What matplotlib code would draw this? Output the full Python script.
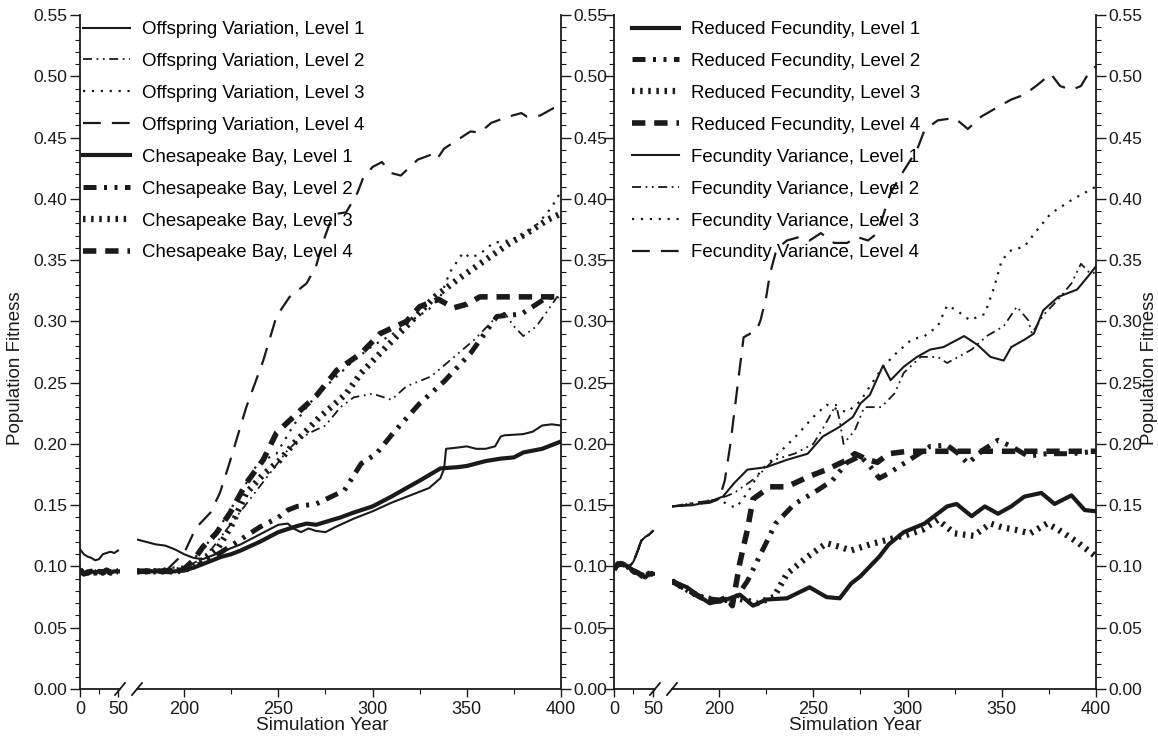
import matplotlib
matplotlib.use('Agg')
import matplotlib.pyplot as plt
from matplotlib.lines import Line2D

plt.rcParams['font.family'] = ['Liberation Sans', 'DejaVu Sans']

# ---- data: early segment (years 0-50) ----
early_years = [0, 5, 10, 15, 20, 25, 30, 35, 40, 45, 50]
ov1_early = [0.114, 0.110, 0.108, 0.107, 0.105, 0.106, 0.110, 0.111, 0.112, 0.111, 0.113]
left_base_early = [0.097, 0.094, 0.095, 0.096, 0.095, 0.096, 0.095, 0.097, 0.095, 0.096, 0.096]
fv_early = [0.098, 0.100, 0.101, 0.100, 0.100, 0.104, 0.112, 0.121, 0.124, 0.126, 0.129]
rf_early = [0.098, 0.102, 0.102, 0.101, 0.099, 0.096, 0.095, 0.093, 0.091, 0.094, 0.094]

# ---- left panel: Offspring Variation / Chesapeake Bay ----
ov1_years = [175, 180, 185, 190, 195, 200, 205, 210, 215, 220, 230, 240, 250, 255, 258, 262, 266, 270,
             275, 280, 290, 300, 310, 320, 330, 336, 338, 339, 345, 350, 355, 360, 365, 368, 370, 380,
             385, 390, 395, 400]
ov1_vals = [0.122, 0.120, 0.118, 0.117, 0.114, 0.110, 0.107, 0.106, 0.109, 0.112, 0.118, 0.126, 0.134,
            0.135, 0.131, 0.128, 0.131, 0.129, 0.128, 0.132, 0.139, 0.145, 0.152, 0.158, 0.164, 0.172,
            0.180, 0.196, 0.197, 0.198, 0.196, 0.196, 0.198, 0.206, 0.207, 0.208, 0.210, 0.215, 0.216, 0.215]

ov2_years = [175, 200, 208, 215, 225, 235, 245, 255, 262, 268, 275, 283, 290, 300, 310, 318, 331, 341,
             354, 366, 370, 375, 380, 387, 393, 398, 400]
ov2_vals = [0.096, 0.099, 0.105, 0.115, 0.135, 0.155, 0.175, 0.195, 0.205, 0.210, 0.215, 0.230, 0.238,
            0.241, 0.236, 0.247, 0.255, 0.268, 0.285, 0.304, 0.307, 0.296, 0.288, 0.296, 0.309, 0.320, 0.318]

ov3_years = [175, 200, 205, 212, 220, 230, 239, 249, 258, 265, 271, 283, 290, 300, 310, 320, 330, 336,
             341, 348, 352, 357, 364, 372, 380, 388, 395, 400]
ov3_vals = [0.096, 0.100, 0.106, 0.118, 0.135, 0.160, 0.184, 0.192, 0.215, 0.230, 0.241, 0.258, 0.268,
            0.280, 0.289, 0.300, 0.310, 0.320, 0.340, 0.356, 0.352, 0.355, 0.364, 0.366, 0.370, 0.380,
            0.393, 0.406]

ov4_years = [175, 190, 200, 204, 206, 214, 219, 224, 233, 242, 249, 256, 265, 270, 274, 278, 282, 286,
             292, 295, 300, 305, 310, 315, 324, 331, 334, 338, 345, 352, 357, 363, 372, 379, 382, 389,
             396, 400]
ov4_vals = [0.096, 0.096, 0.111, 0.124, 0.131, 0.144, 0.160, 0.184, 0.230, 0.268, 0.304, 0.320, 0.331,
            0.345, 0.366, 0.383, 0.388, 0.389, 0.405, 0.417, 0.426, 0.430, 0.421, 0.419, 0.432, 0.436,
            0.432, 0.441, 0.448, 0.455, 0.454, 0.462, 0.467, 0.470, 0.467, 0.468, 0.474, 0.475]

cb1_years = [175, 185, 195, 200, 205, 210, 215, 220, 225, 230, 240, 250, 260, 265, 270, 283, 290, 300,
             310, 318, 325, 336, 345, 350, 360, 368, 375, 380, 390, 400]
cb1_vals = [0.096, 0.096, 0.096, 0.097, 0.099, 0.102, 0.105, 0.108, 0.110, 0.113, 0.120, 0.128, 0.133,
            0.135, 0.134, 0.140, 0.144, 0.149, 0.157, 0.164, 0.170, 0.180, 0.181, 0.182, 0.186, 0.188,
            0.189, 0.193, 0.196, 0.202]

cb2_years = [175, 200, 210, 220, 230, 240, 250, 255, 260, 270, 285, 294, 302, 311, 325, 338, 352, 366,
             379, 393, 400]
cb2_vals = [0.096, 0.097, 0.103, 0.112, 0.122, 0.132, 0.140, 0.146, 0.149, 0.151, 0.162, 0.184, 0.192,
            0.209, 0.233, 0.251, 0.274, 0.304, 0.306, 0.320, 0.319]

cb3_years = [175, 195, 200, 205, 210, 218, 225, 233, 242, 251, 258, 265, 272, 278, 286, 294, 304, 318,
             333, 345, 357, 372, 382, 393, 400]
cb3_vals = [0.096, 0.096, 0.097, 0.100, 0.105, 0.115, 0.133, 0.160, 0.175, 0.187, 0.200, 0.211, 0.222,
            0.230, 0.241, 0.258, 0.274, 0.296, 0.320, 0.334, 0.347, 0.363, 0.372, 0.383, 0.388]

cb4_years = [175, 195, 200, 205, 210, 217, 224.5, 233, 242, 249, 260, 270, 281, 294, 304, 318, 325, 335,
             343, 350, 357, 365, 380, 390, 400]
cb4_vals = [0.096, 0.096, 0.098, 0.105, 0.116, 0.127, 0.144, 0.168, 0.187, 0.209, 0.225, 0.239, 0.260,
            0.274, 0.290, 0.300, 0.312, 0.318, 0.311, 0.314, 0.320, 0.320, 0.320, 0.320, 0.320]

# ---- right panel: Reduced Fecundity / Fecundity Variance ----
rf1_years = [175, 183, 190, 195, 204, 211, 218, 225, 236, 248, 257, 264, 270, 275, 280, 285, 290, 298,
             309, 321, 326, 334, 341, 348, 355, 362, 371, 378, 387, 394, 400]
rf1_vals = [0.088, 0.083, 0.075, 0.070, 0.073, 0.077, 0.068, 0.073, 0.074, 0.083, 0.075, 0.074, 0.086,
            0.092, 0.100, 0.108, 0.118, 0.128, 0.135, 0.149, 0.151, 0.141, 0.149, 0.143, 0.149, 0.157,
            0.160, 0.151, 0.158, 0.146, 0.145]

rf2_years = [175, 190, 200, 207, 215, 222, 230, 240, 250, 260, 268, 275, 280, 285, 290, 298, 312, 321,
             327, 332, 340, 348, 355, 364, 374, 387, 400]
rf2_vals = [0.088, 0.075, 0.072, 0.070, 0.088, 0.110, 0.135, 0.151, 0.160, 0.170, 0.185, 0.190, 0.182,
            0.172, 0.176, 0.184, 0.198, 0.199, 0.192, 0.184, 0.195, 0.203, 0.198, 0.190, 0.192, 0.192, 0.194]

rf3_years = [175, 190, 200, 210, 220, 229, 236, 247, 257, 264, 270, 280, 290, 300, 308, 316, 325, 335,
             344, 350, 357, 365, 374, 380, 390, 400]
rf3_vals = [0.088, 0.075, 0.072, 0.074, 0.070, 0.075, 0.094, 0.108, 0.119, 0.116, 0.113, 0.118, 0.122,
            0.126, 0.130, 0.138, 0.127, 0.125, 0.135, 0.132, 0.130, 0.127, 0.135, 0.130, 0.120, 0.108]

rf4_years = [175, 190, 200, 204, 207, 211, 215, 218, 227, 236, 247, 257, 268, 272, 279, 284, 290, 300,
             320, 340, 360, 380, 400]
rf4_vals = [0.088, 0.075, 0.072, 0.075, 0.068, 0.103, 0.130, 0.155, 0.165, 0.165, 0.173, 0.179, 0.187,
            0.192, 0.187, 0.185, 0.192, 0.194, 0.194, 0.194, 0.194, 0.194, 0.194]

fv1_years = [175, 186, 195, 202, 208, 215, 225, 236, 247, 255, 264, 271, 275, 280, 287, 291, 298, 305,
             312, 319, 330, 337, 344, 351, 355, 362, 367, 372, 380, 390, 397, 400]
fv1_vals = [0.149, 0.150, 0.153, 0.157, 0.168, 0.179, 0.181, 0.187, 0.192, 0.206, 0.214, 0.222, 0.233,
            0.240, 0.264, 0.252, 0.263, 0.271, 0.277, 0.279, 0.288, 0.281, 0.271, 0.268, 0.279, 0.285,
            0.290, 0.309, 0.320, 0.326, 0.339, 0.345]

fv2_years = [175, 200, 208, 220, 229, 240, 250, 256, 262, 264, 266, 272, 277, 286, 293, 298, 307, 316,
             321, 334, 342, 351, 358, 364, 366, 372, 380, 387, 392, 397, 400]
fv2_vals = [0.149, 0.155, 0.160, 0.173, 0.187, 0.192, 0.200, 0.215, 0.232, 0.219, 0.200, 0.211, 0.230,
            0.230, 0.241, 0.258, 0.271, 0.271, 0.266, 0.277, 0.288, 0.296, 0.312, 0.301, 0.290, 0.305,
            0.318, 0.331, 0.347, 0.339, 0.340]

fv3_years = [175, 200, 205, 209, 215, 222, 230, 240, 250, 257, 263, 268, 275, 280, 287, 294, 302, 309,
             316, 321, 326, 333, 341, 346, 350, 355, 362, 369, 376, 387, 400]
fv3_vals = [0.149, 0.155, 0.150, 0.148, 0.160, 0.178, 0.190, 0.205, 0.222, 0.232, 0.228, 0.226, 0.235,
            0.247, 0.263, 0.274, 0.285, 0.288, 0.296, 0.313, 0.309, 0.301, 0.306, 0.328, 0.350, 0.358,
            0.361, 0.375, 0.388, 0.399, 0.410]

fv4_years = [175, 195, 200, 203, 206, 210, 213, 220, 222, 225, 227, 230, 232, 236, 243, 248, 254, 261,
             268, 273, 279, 284, 291, 298, 305, 309, 316, 325, 332, 339, 348, 355, 362, 369, 376, 381,
             387, 392, 397, 400]
fv4_vals = [0.149, 0.152, 0.155, 0.170, 0.200, 0.250, 0.287, 0.293, 0.301, 0.320, 0.339, 0.356, 0.361,
            0.366, 0.369, 0.366, 0.372, 0.364, 0.364, 0.369, 0.366, 0.372, 0.405, 0.423, 0.440, 0.456,
            0.464, 0.466, 0.457, 0.467, 0.475, 0.481, 0.485, 0.493, 0.502, 0.492, 0.489, 0.492, 0.505, 0.508]

# ---- line styles ----
ink = '#1a1a1a'
thin_styles = [
    dict(lw=1.5, ls='-'),
    dict(lw=1.3, ls=(0, (5, 2.5, 1, 2.5, 1, 2.5))),
    dict(lw=1.6, ls=(0, (1, 3))),
    dict(lw=1.6, ls=(0, (8, 5))),
]
thick_styles = [
    dict(lw=3.0, ls='-'),
    dict(lw=3.6, ls=(0, (2.6, 1.5, 0.6, 1.5, 0.6, 1.5))),
    dict(lw=4.5, ls=(0, (0.4, 0.9))),
    dict(lw=4.0, ls=(0, (2.4, 1.6))),
]

W, H = 1158, 736
fig = plt.figure(figsize=(W / 100, H / 100), dpi=100)


def px_axes(x0, x1, y_top=15, y_bot=689):
    return fig.add_axes([x0 / W, 1 - y_bot / H, (x1 - x0) / W, (y_bot - y_top) / H])


def style_axes(ax_a, ax_b, left_labels, mid_labels):
    for ax in (ax_a, ax_b):
        ax.set_ylim(0, 0.55)
        ax.set_yticks([i * 0.05 for i in range(12)])
        ax.set_yticks([i * 0.01 for i in range(56)], minor=True)
        ax.spines['top'].set_visible(False)
        for sp in ax.spines.values():
            sp.set_linewidth(1.3)
            sp.set_color(ink)
        ax.tick_params(which='major', direction='out', length=7, width=1, labelsize=12.5, colors=ink)
        ax.tick_params(which='minor', direction='out', length=3.5, width=0.8, colors=ink)
        ax.tick_params(axis='x', which='major', length=6, pad=2.5, labelsize=13)
        ax.yaxis.set_major_formatter(matplotlib.ticker.FormatStrFormatter('%.2f'))
    ax_a.spines['right'].set_visible(False)
    ax_b.spines['left'].set_visible(False)
    ax_a.set_xlim(0, 52.6)
    ax_a.set_xticks([0, 50])
    ax_a.set_xticks([25], minor=True)
    ax_a.tick_params(axis='y', which='both', left=True, right=False, labelleft=left_labels)
    ax_a.tick_params(axis='y', which='major', pad=2)
    ax_b.set_xlim(175, 400)
    ax_b.set_xticks([200, 250, 300, 350, 400])
    ax_b.set_xticks([225, 275, 325, 375], minor=True)
    ax_b.tick_params(axis='y', which='both', left=False, labelleft=False, right=True, labelright=mid_labels)
    ax_b.tick_params(axis='y', which='major', pad=2)
    # break marks on the x axis
    for x in (ax_a.get_position().x1, ax_b.get_position().x0):
        y = ax_a.get_position().y0
        fig.add_artist(Line2D([x - 5 / W, x + 5 / W], [y - 6 / H, y + 6 / H],
                              transform=fig.transFigure, color=ink, lw=1.3))


def draw(ax_a, ax_b, early, years, vals, st, label):
    ax_a.plot(early_years, early, color=ink, **st)
    ax_b.plot(years, vals, color=ink, label=label, **st)


# left panel
la = px_axes(80, 120)
lb = px_axes(137, 561)
style_axes(la, lb, True, True)

left_series = [
    (ov1_early, ov1_years, ov1_vals, thin_styles[0], 'Offspring Variation, Level 1'),
    (left_base_early, ov2_years, ov2_vals, thin_styles[1], 'Offspring Variation, Level 2'),
    (left_base_early, ov3_years, ov3_vals, thin_styles[2], 'Offspring Variation, Level 3'),
    (left_base_early, ov4_years, ov4_vals, thin_styles[3], 'Offspring Variation, Level 4'),
    (left_base_early, cb1_years, cb1_vals, thick_styles[0], 'Chesapeake Bay, Level 1'),
    (left_base_early, cb2_years, cb2_vals, thick_styles[1], 'Chesapeake Bay, Level 2'),
    (left_base_early, cb3_years, cb3_vals, thick_styles[2], 'Chesapeake Bay, Level 3'),
    (left_base_early, cb4_years, cb4_vals, thick_styles[3], 'Chesapeake Bay, Level 4'),
]
for e, yr, v, st, lab in left_series:
    draw(la, lb, e, yr, v, st, lab)

# right panel
ra = px_axes(614, 655)
rb = px_axes(672, 1096)
style_axes(ra, rb, False, True)

right_series = [
    (rf_early, rf1_years, rf1_vals, thick_styles[0], 'Reduced Fecundity, Level 1'),
    (rf_early, rf2_years, rf2_vals, thick_styles[1], 'Reduced Fecundity, Level 2'),
    (rf_early, rf3_years, rf3_vals, thick_styles[2], 'Reduced Fecundity, Level 3'),
    (rf_early, rf4_years, rf4_vals, thick_styles[3], 'Reduced Fecundity, Level 4'),
    (fv_early, fv1_years, fv1_vals, thin_styles[0], 'Fecundity Variance, Level 1'),
    (fv_early, fv2_years, fv2_vals, thin_styles[1], 'Fecundity Variance, Level 2'),
    (fv_early, fv3_years, fv3_vals, thin_styles[2], 'Fecundity Variance, Level 3'),
    (fv_early, fv4_years, fv4_vals, thin_styles[3], 'Fecundity Variance, Level 4'),
]
for e, yr, v, st, lab in right_series:
    draw(ra, rb, e, yr, v, st, lab)

leg_kw = dict(loc='upper left', frameon=False, fontsize=13.4, borderpad=0, borderaxespad=0,
              handlelength=2.5, handletextpad=0.65, labelspacing=0.8)
h, l = lb.get_legend_handles_labels()
fig.legend(h, l, bbox_to_anchor=(83 / W, 1 - 21 / H), **leg_kw)
h, l = rb.get_legend_handles_labels()
fig.legend(h, l, bbox_to_anchor=(632 / W, 1 - 21 / H), **leg_kw)

fig.text(322 / W, 1 - 726 / H, 'Simulation Year', ha='center', va='center', fontsize=13.8, color=ink)
fig.text(855 / W, 1 - 726 / H, 'Simulation Year', ha='center', va='center', fontsize=13.8, color=ink)
fig.text(16 / W, 1 - 368 / H, 'Population Fitness', rotation=90, ha='center', va='center',
         fontsize=13.5, color=ink)
fig.text(1150 / W, 1 - 368 / H, 'Population Fitness', rotation=90, ha='center', va='center',
         fontsize=13.5, color=ink)

fig.savefig('out.png', dpi=100)
